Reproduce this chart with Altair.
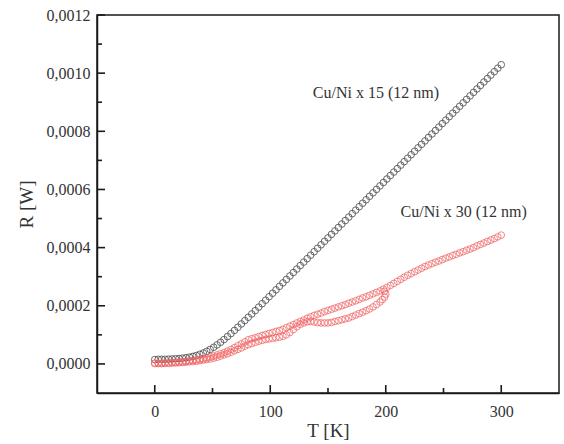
import altair as alt
import pandas as pd

# ---- data (resistance in micro-ohm, converted to ohm below) ----
T_black = [0, 3, 6, 9, 12, 15, 18, 21, 24, 27, 30, 33, 36, 39, 42, 45, 48, 51, 54, 57,
           60, 63, 66, 69, 72, 75, 78, 81, 84, 87, 90, 93, 96, 99, 102, 105, 108, 111, 114, 117,
           120, 123, 126, 129, 132, 135, 138, 141, 144, 147, 150, 153, 156, 159, 162, 165, 168, 171, 174, 177,
           180, 183, 186, 189, 192, 195, 198, 201, 204, 207, 210, 213, 216, 219, 222, 225, 228, 231, 234, 237,
           240, 243, 246, 249, 252, 255, 258, 261, 264, 267, 270, 273, 276, 279, 282, 285, 288, 291, 294, 297, 300]
R_black_uohm = [15, 16, 16, 16, 16.5, 17, 17.7, 18.6, 19.8, 21.3, 23.3, 25.8, 29, 33, 37.7, 43.3, 49.8, 57.2, 65.4, 74.3,
                83.8, 93.9, 104.4, 115.2, 126.3, 137.5, 149, 160.5, 172, 183.4, 195.3, 207.2, 219.1, 231.1, 243, 254.9, 266.8, 278.7, 290.6, 302.5,
                314.4, 326.3, 338.3, 350.2, 362.1, 374, 385.9, 397.8, 409.7, 421.6, 433.5, 445.5, 457.4, 469.3, 481.2, 493.1, 505, 516.9, 528.8, 540.7,
                552.6, 564.5, 576.5, 588.4, 600.3, 612.2, 624.1, 636, 647.9, 659.8, 671.7, 683.7, 695.6, 707.5, 719.4, 731.3, 743.2, 755.1, 767, 778.9,
                790.8, 802.7, 814.7, 826.6, 838.5, 850.4, 862.3, 874.2, 886.1, 898, 909.9, 921.9, 933.8, 945.7, 957.6, 969.5, 981.4, 993.3, 1005.2, 1017.1, 1029]

T_redA = T_black
R_redA_uohm = [3, 3, 3, 4, 4, 5, 6, 7, 8, 9, 11, 12, 14, 16, 18, 21, 24, 27, 31, 35,
               39, 44, 50, 56, 63, 69, 76, 83, 87, 90, 94, 98, 101, 105, 108, 112, 115, 119, 125, 130,
               135, 141, 146, 151, 157, 162, 167, 171, 175, 180, 184, 188, 192, 196, 200, 204, 209, 213, 217, 222,
               227, 231, 236, 241, 246, 251, 257, 263, 270, 277, 284, 291, 298, 305, 311, 317, 323, 329, 335, 340,
               345, 350, 354, 359, 364, 368, 373, 377, 382, 386, 391, 395, 400, 406, 411, 416, 421, 426, 431, 437, 443]

T_redB = [0, 3, 6, 9, 12, 15, 18, 21, 24, 27, 30, 33, 36, 39, 42, 45, 48, 51, 54, 57,
          60, 63, 66, 69, 72, 75, 78, 81, 84, 87, 90, 93, 96, 99, 102, 105, 108, 111, 114, 117,
          120, 123, 126, 129, 132, 135, 138, 141, 144, 147, 150, 153, 156, 159, 162, 165, 168, 171, 174, 177,
          180, 183, 186, 189, 192, 195, 197, 199, 200, 199]
R_redB_uohm = [1, 1, 1, 2, 2, 3, 3, 4, 5, 6, 7, 8, 9, 11, 13, 15, 17, 20, 23, 27,
               31, 35, 40, 45, 50, 55, 61, 66, 70, 74, 78, 81, 84, 86, 88, 90, 92, 95, 100, 108,
               118, 128, 136, 141, 145, 146, 144, 142, 141, 141, 141, 143, 146, 149, 152, 155, 158, 163, 168, 173,
               178, 183, 189, 196, 204, 213, 221, 230, 240, 250]

label_text = ["Cu/Ni x 15 (12 nm)", "Cu/Ni x 30 (12 nm)"]
label_T = [191.5, 267.5]
label_R = [0.000931, 0.000521]

x_major = [0, 100, 200, 300]
x_minor = [50, 150, 250]
y_major = [0, 0.0002, 0.0004, 0.0006, 0.0008, 0.0010, 0.0012]
y_minor = [0.0001, 0.0003, 0.0005, 0.0007, 0.0009, 0.0011]

df_black = pd.DataFrame({"T": T_black, "R": [v * 1e-6 for v in R_black_uohm]})
df_red = pd.concat([
    pd.DataFrame({"T": T_redA, "R": [v * 1e-6 for v in R_redA_uohm]}),
    pd.DataFrame({"T": T_redB, "R": [v * 1e-6 for v in R_redB_uohm]}),
])
df_lab = pd.DataFrame({"T": label_T, "R": label_R, "text": label_text})

W, H = 462, 378
FONT = "Liberation Serif"
TICK = "#1a1a1a"
xscale = alt.Scale(domain=[-50, 350], nice=False, zero=False)
yscale = alt.Scale(domain=[-0.0001, 0.0012], nice=False, zero=False)

x_axis_lab = alt.Axis(values=x_major, orient="bottom", title="T [K]", format="d",
                      ticks=False, labelPadding=10, domainColor=TICK, domainWidth=1.5,
                      grid=False, titlePadding=2)
y_axis_lab = alt.Axis(values=y_major, orient="left", title="R [W]",
                      labelExpr="replace(format(datum.value, '.4f'), '.', ',')",
                      ticks=False, labelPadding=7, domainColor=TICK, domainWidth=1.5,
                      grid=False, titlePadding=10)

pt_black = dict(shape="circle", filled=False, size=44, strokeWidth=0.9,
                color="#4a4a4a", opacity=0.9)
pt_red = dict(shape="circle", filled=False, size=44, strokeWidth=0.9,
              color="#ef6363", opacity=0.85)

black = alt.Chart(df_black).mark_point(**pt_black).encode(
    x=alt.X("T:Q", scale=xscale, axis=x_axis_lab),
    y=alt.Y("R:Q", scale=yscale, axis=y_axis_lab),
)

red = alt.Chart(df_red).mark_point(**pt_red).encode(
    x=alt.X("T:Q", scale=xscale, axis=None),
    y=alt.Y("R:Q", scale=yscale, axis=None),
)

labels = alt.Chart(df_lab).mark_text(
    font=FONT, fontSize=16, color="#333333", align="center", baseline="middle"
).encode(
    x=alt.X("T:Q", scale=xscale, axis=None),
    y=alt.Y("R:Q", scale=yscale, axis=None),
    text="text:N",
)

# inward tick marks placed through the same scales as the data
def xticks(vals, length):
    return alt.Chart(pd.DataFrame({"T": vals})).mark_rule(
        color=TICK, strokeWidth=1.6
    ).encode(
        x=alt.X("T:Q", scale=xscale, axis=None),
        y=alt.value(H), y2=alt.value(H - length),
    )

def yticks(vals, length):
    return alt.Chart(pd.DataFrame({"R": vals})).mark_rule(
        color=TICK, strokeWidth=1.6
    ).encode(
        y=alt.Y("R:Q", scale=yscale, axis=None),
        x=alt.value(0), x2=alt.value(length),
    )

chart = alt.layer(
    black, red, labels,
    xticks(x_major, 8), xticks(x_minor, 5),
    yticks(y_major, 8), yticks(y_minor, 5),
).resolve_axis(
    x="independent", y="independent"
).properties(
    width=W, height=H, autosize="none",
    padding={"left": 97, "top": 15, "right": 5, "bottom": 51},
    background="white",
).configure_view(
    stroke=TICK, strokeWidth=1.5
).configure_axis(
    labelFont=FONT, labelFontSize=16, labelColor="#333333",
    titleFont=FONT, titleFontSize=19, titleFontWeight="normal", titleColor="#333333",
)

chart.save("out.html", embed_options={"renderer": "svg", "actions": False})
